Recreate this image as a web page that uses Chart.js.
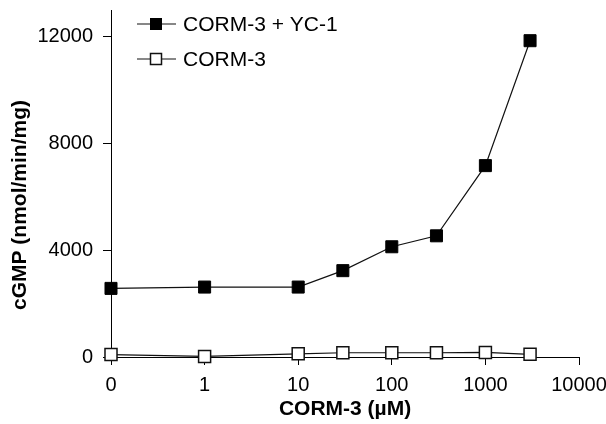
<!DOCTYPE html>
<html>
<head>
<meta charset="utf-8">
<script src="https://cdn.jsdelivr.net/npm/chart.js@4/dist/chart.umd.min.js"></script>
<style>
  html, body { margin: 0; padding: 0; background: #fff; }
  #wrap { width: 606px; height: 424px; position: relative; }
</style>
</head>
<body>
<div id="wrap"><canvas id="cgmpChart" width="606" height="424"></canvas></div>
<script>
// CORM-3 concentrations (µM) — x axis is log-ish with 0 placed one decade left of 1
const concentrations = [0, 1, 10, 30, 100, 300, 1000, 3000]
const xTickLabels = ["0", "1", "10", "100", "1000", "10000"]
const yTickValues = [0, 4000, 8000, 12000]

// cGMP (nmol/min/mg)
const withYC1 = [2570, 2620, 2620, 3235, 4130, 4540, 7170, 11850]
const cormOnly = [90, 20, 120, 160, 160, 160, 170, 100]

const seriesLabels = ["CORM-3 + YC-1", "CORM-3"]
const xTitle = "CORM-3 (µM)"
const yTitle = "cGMP (nmol/min/mg)"

const FONT = "'Liberation Sans', Arial, sans-serif"

// map a concentration onto the axis position (0 -> 0, 1 -> 1, 10 -> 2 ...)
function axisPos(c){
    return c === 0 ? 0 : Math.log10(c) + 1
}

function toPoints(values){
    return values.map((v, i) => ({ x: axisPos(concentrations[i]), y: v }))
}

// legend drawn inside the plot, top-left
const insideLegend = {
    id: "insideLegend",
    afterDraw(chart){
        const ctx = chart.ctx
        const rows = [24, 59]
        ctx.save()
        chart.data.datasets.forEach((ds, i) => {
            const y = rows[i]
            ctx.strokeStyle = ds.borderColor
            ctx.lineWidth = 1.2
            ctx.beginPath()
            ctx.moveTo(137, y)
            ctx.lineTo(176, y)
            ctx.stroke()

            ctx.fillStyle = ds.pointBackgroundColor
            ctx.fillRect(150.5, y - 5.5, 11, 11)
            ctx.lineWidth = ds.pointBorderWidth
            ctx.strokeStyle = ds.pointBorderColor
            ctx.strokeRect(150.5, y - 5.5, 11, 11)

            ctx.fillStyle = "#000"
            ctx.font = "21px " + FONT
            ctx.textBaseline = "middle"
            ctx.textAlign = "left"
            ctx.fillText(ds.label, 183, y + 1)
        })

        // y axis title sits a bit below the axis middle in the original
        ctx.translate(20, 205)
        ctx.rotate(-Math.PI / 2)
        ctx.font = "bold 21px " + FONT
        ctx.textAlign = "center"
        ctx.textBaseline = "middle"
        ctx.fillStyle = "#000"
        ctx.fillText(yTitle, 0, 0)
        ctx.restore()
    }
}

new Chart(document.getElementById("cgmpChart"), {
    type: "line",
    data: {
        datasets: [
            {
                label: seriesLabels[0],
                data: toPoints(withYC1),
                borderColor: "#111",
                borderWidth: 1.2,
                pointStyle: "rect",
                pointRadius: 8.5,
                pointBackgroundColor: "#000",
                pointBorderColor: "#000",
                pointBorderWidth: 1,
                clip: false
            },
            {
                label: seriesLabels[1],
                data: toPoints(cormOnly),
                borderColor: "#111",
                borderWidth: 1.2,
                pointStyle: "rect",
                pointRadius: 8.5,
                pointBackgroundColor: "#fff",
                pointBorderColor: "#111",
                pointBorderWidth: 1.5,
                clip: false
            }
        ]
    },
    options: {
        responsive: false,
        animation: false,
        devicePixelRatio: 1,
        layout: { padding: { left: 0, right: 27, top: 10, bottom: 0 } },
        plugins: {
            legend: { display: false },
            tooltip: { enabled: false }
        },
        scales: {
            x: {
                type: "linear",
                min: 0,
                max: 5,
                grid: { drawOnChartArea: false, drawTicks: true, tickLength: 8, color: "#000", tickColor: "#000" },
                border: { display: true, color: "#000", width: 1 },
                ticks: {
                    stepSize: 1,
                    color: "#000",
                    padding: 8,
                    maxRotation: 0,
                    autoSkip: false,
                    font: { family: FONT, size: 20 },
                    callback: v => xTickLabels[v]
                },
                title: {
                    display: true,
                    text: xTitle,
                    color: "#000",
                    font: { family: FONT, size: 21, weight: "bold" },
                    padding: { top: 4, bottom: 2 }
                },
                afterFit(s){
                    s.height = 67
                    s.paddingLeft = 0
                    s.paddingRight = 0
                }
            },
            y: {
                min: 0,
                max: 13000,
                grid: { drawOnChartArea: false, drawTicks: true, tickLength: 8, color: "#000", tickColor: "#000" },
                border: { display: true, color: "#000", width: 1 },
                ticks: {
                    color: "#000",
                    padding: 10,
                    autoSkip: false,
                    font: { family: FONT, size: 20 },
                    callback: v => String(v)
                },
                afterBuildTicks(s){
                    s.ticks = yTickValues.map(v => ({ value: v }))
                },
                afterFit(s){
                    s.width = 111
                    s.paddingTop = 0
                    s.paddingBottom = 0
                }
            }
        }
    },
    plugins: [insideLegend]
})
</script>
</body>
</html>
